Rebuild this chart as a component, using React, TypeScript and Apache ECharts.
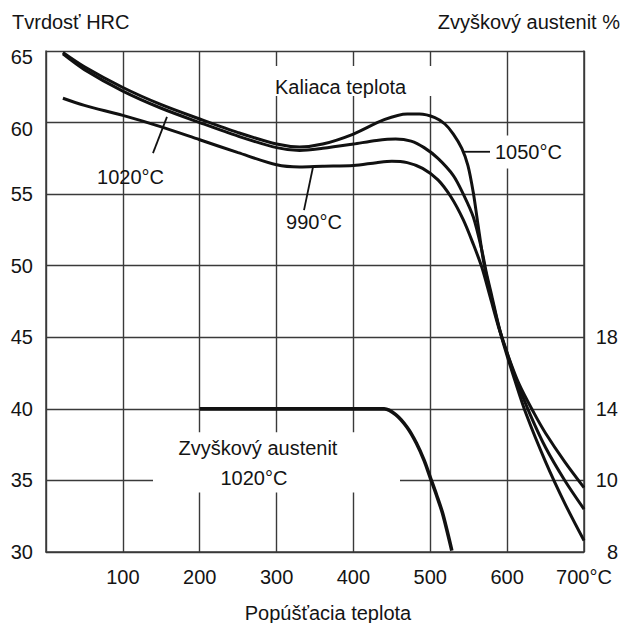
import React, { useEffect, useRef } from "react";
import * as echarts from "echarts";

// Tempering temperature (°C) vs hardness (HRC) for three hardening temperatures
const hrc1050: [number, number][] = [
  [22, 64.9], [50, 63.9], [100, 62.45], [150, 61.25], [200, 60.25], [250, 59.3], [300, 58.5],
  [330, 58.3], [360, 58.5], [400, 59.2], [440, 60.2], [470, 60.6], [486, 60.6], [506, 60.35],
  [519, 59.9], [530, 59.2], [541, 58.2], [549, 57.0], [556, 55.1], [562, 52.9], [569, 50.4],
  [576, 48.6], [585, 46.6], [595, 44.6], [610, 42.0], [625, 39.6], [650, 36.3], [675, 33.4],
  [700, 30.8],
];
const hrc1020: [number, number][] = [
  [22, 64.8], [50, 63.7], [100, 62.2], [150, 61.0], [200, 60.0], [250, 59.05], [300, 58.25],
  [330, 58.05], [360, 58.2], [400, 58.5], [430, 58.75], [455, 58.85], [475, 58.7], [492, 58.25],
  [510, 57.5], [530, 56.3], [543, 55.0], [556, 53.4], [567, 51.1], [573, 49.5], [580, 47.9],
  [590, 45.6], [600, 43.9], [612, 42.0], [630, 39.6], [650, 37.3], [675, 35.0], [700, 33.0],
];
const hrc990: [number, number][] = [
  [22, 61.7], [50, 61.2], [100, 60.5], [150, 59.7], [200, 58.8], [250, 57.9], [300, 57.05],
  [330, 56.9], [360, 56.95], [400, 57.0], [430, 57.2], [450, 57.3], [470, 57.2], [490, 56.8],
  [510, 56.0], [527, 54.8], [543, 53.2], [556, 51.5], [567, 49.9], [578, 47.8], [590, 45.5],
  [600, 43.9], [615, 41.8], [635, 39.7], [650, 38.3], [675, 36.3], [700, 34.5],
];
// Retained austenite (1020°C), drawn on the chart's HRC scale; right axis labels give %
const austenite: [number, number][] = [
  [200, 40.0], [300, 40.0], [400, 40.0], [440, 40.0], [455, 39.6], [470, 38.7], [482, 37.6],
  [492, 36.4], [500, 35.2], [508, 34.0], [516, 32.7], [528, 30.1],
];
const rightAxisLabels: Record<number, string> = { 30: "8", 35: "10", 40: "14", 45: "18" };

const FONT = "'Liberation Sans', Arial, Helvetica, sans-serif";
const INK = "#141414";
const GRID = "#3a3a3a";

export default function App() {
  const ref = useRef<HTMLDivElement>(null);
  useEffect(() => {
    if (!ref.current) return;
    const chart = echarts.init(ref.current, undefined, { renderer: "svg" });
    const curve = (name: string, data: [number, number][], w = 3) => ({
      name,
      type: "line",
      data,
      smooth: 0.3,
      showSymbol: false,
      symbol: "none",
      lineStyle: { color: "#111", width: w },
      z: 3,
    });
    chart.setOption({
      animation: false,
      backgroundColor: "#fff",
      grid: { left: 46, right: 42, top: 51, bottom: 71 },
      xAxis: {
        type: "value",
        min: 0,
        max: 700,
        interval: 100,
        axisLine: { show: true, lineStyle: { color: GRID, width: 1.5 } },
        axisTick: { show: false },
        splitLine: { show: true, lineStyle: { color: GRID, width: 1.4 } },
        axisLabel: {
          margin: 15,
          color: INK,
          fontSize: 20,
          fontFamily: FONT,
          formatter: (v: number) => (v === 0 ? "" : v === 700 ? "700°C" : String(v)),
        },
      },
      yAxis: [
        {
          type: "value",
          position: "left",
          min: 30,
          max: 65,
          interval: 5,
          axisLine: { show: true, lineStyle: { color: GRID, width: 1.5 } },
          axisTick: { show: false },
          splitLine: { show: true, lineStyle: { color: GRID, width: 1.4 } },
          axisLabel: {
            margin: 13,
            color: INK,
            fontSize: 20,
            fontFamily: FONT,
            formatter: (v: number) => (v >= 60 ? `{low|${v}}` : String(v)),
            rich: {
              low: { fontSize: 20, fontFamily: FONT, color: INK, padding: [12, 0, 0, 0] },
            },
          },
        },
        {
          type: "value",
          position: "right",
          min: 30,
          max: 65,
          interval: 5,
          axisLine: { show: true, lineStyle: { color: GRID, width: 1.5 } },
          axisTick: { show: false },
          splitLine: { show: false },
          axisLabel: {
            margin: 34,
            align: "right",
            color: INK,
            fontSize: 20,
            fontFamily: FONT,
            formatter: (v: number) => rightAxisLabels[v] ?? "",
          },
        },
      ],
      series: [
        curve("1050°C", hrc1050),
        curve("1020°C", hrc1020),
        curve("990°C", hrc990),
        curve("Zvyškový austenit 1020°C", austenite, 3.6),
      ],
    });

    const p = (x: number, y: number) => chart.convertToPixel({ gridIndex: 0 }, [x, y]) as number[];
    const txt = (text: string, x: number, y: number, align = "left", size = 20) => ({
      type: "text",
      z: 20,
      style: {
        text, x, y, fill: INK,
        font: `${size}px ${FONT}`,
        fontSize: size, fontFamily: FONT,
        align, verticalAlign: "middle",
        textAlign: align, textVerticalAlign: "middle",
      },
    });
    const rectD = (x1: number, y1: number, x2: number, y2: number) => {
      const a = p(x1, y1);
      const b = p(x2, y2);
      return {
        type: "rect",
        z: 15,
        shape: { x: a[0], y: a[1], width: b[0] - a[0], height: b[1] - a[1] },
        style: { fill: "#fff" },
      };
    };
    const lineD = (x1: number, y1: number, x2: number, y2: number) => {
      const a = p(x1, y1);
      const b = p(x2, y2);
      return {
        type: "line",
        z: 20,
        shape: { x1: a[0], y1: a[1], x2: b[0], y2: b[1] },
        style: { stroke: "#111", lineWidth: 1.8 },
      };
    };
    const at = (x: number, y: number) => p(x, y);

    const kal = at(298, 62.48);
    const l1020 = at(110, 56.19);
    const l990 = at(348.7, 53.04);
    const l1050 = at(584.2, 57.96);
    const aus1 = at(275.8, 37.24);
    const aus2 = at(270.6, 35.2);

    chart.setOption({
      graphic: [
        rectD(294, 63.95, 507, 61.85),
        txt("Kaliaca teplota", kal[0], kal[1]),
        txt("1020°C", l1020[0], l1020[1], "center"),
        lineD(139.2, 57.87, 157.4, 60.4),
        txt("990°C", l990[0], l990[1], "center"),
        lineD(335.7, 53.88, 347.4, 56.9),
        rectD(580, 59.1, 678, 56.8),
        lineD(543.5, 57.96, 577.7, 57.96),
        txt("1050°C", l1050[0], l1050[1]),
        rectD(139.2, 38.36, 460.6, 34.16),
        txt("Zvyškový austenit", aus1[0], aus1[1], "center"),
        txt("1020°C", aus2[0], aus2[1], "center"),
        txt("Tvrdosť HRC", 12, 22, "left"),
        txt("Zvyškový austenit %", 620, 22, "right"),
        txt("Popúšťacia teplota", 328, 613, "center"),
      ],
    });
    return () => chart.dispose();
  }, []);
  return (
    <div
      ref={ref}
      style={{ position: "fixed", left: 0, top: 0, width: 626, height: 623, background: "#fff" }}
    />
  );
}
